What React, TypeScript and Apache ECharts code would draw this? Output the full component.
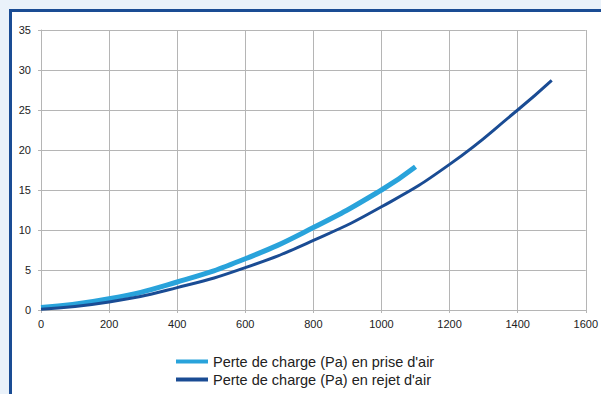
import React, { useEffect, useRef } from "react";
import * as echarts from "echarts";

const priseX = [0, 200, 400, 600, 800, 1000, 1100];
const priseY = [0.3, 1.4, 3.5, 6.4, 10.3, 15.0, 17.9];

const rejetX = [0, 200, 400, 600, 800, 1000, 1200, 1400, 1500];
const rejetY = [0.1, 1.0, 2.8, 5.3, 8.7, 12.9, 18.2, 25.0, 28.7];

const seriesNames = ["Perte de charge (Pa) en prise d'air", "Perte de charge (Pa) en rejet d'air"];

const FONT = "'Liberation Sans', Arial, Helvetica, sans-serif";

export default function App() {
  const ref = useRef<HTMLDivElement>(null);
  useEffect(() => {
    if (!ref.current) return;
    const chart = echarts.init(ref.current, undefined, { renderer: "svg" });
    const gridColor = "#b5b5b5";
    chart.setOption({
      animation: false,
      backgroundColor: "#eaf2fa",
      graphic: [
        {
          type: "rect",
          z: -10,
          silent: true,
          shape: { x: 10.5, y: 10.5, width: 800, height: 600 },
          style: { fill: "#ffffff", stroke: "#1a4c94", lineWidth: 3 },
        },
      ],
      grid: { left: 41, right: 14, top: 30, bottom: 84 },
      xAxis: {
        type: "value",
        min: 0,
        max: 1600,
        interval: 200,
        axisLine: { show: true, lineStyle: { color: gridColor, width: 1 } },
        axisTick: { show: true, length: 3, lineStyle: { color: gridColor } },
        splitLine: { show: true, lineStyle: { color: gridColor, width: 1 } },
        axisLabel: {
          color: "#222",
          fontSize: 11,
          fontFamily: FONT,
          margin: 8,
          formatter: (v: number) => String(v),
        },
      },
      yAxis: {
        type: "value",
        min: 0,
        max: 35,
        interval: 5,
        axisLine: { show: true, lineStyle: { color: gridColor, width: 1 } },
        axisTick: { show: true, length: 3, lineStyle: { color: gridColor } },
        splitLine: { show: true, lineStyle: { color: gridColor, width: 1 } },
        axisLabel: {
          color: "#222",
          fontSize: 11,
          fontFamily: FONT,
          margin: 10,
          formatter: (v: number) => String(v),
        },
      },
      legend: {
        orient: "vertical",
        left: 176,
        top: 354,
        padding: 0,
        height: 40,
        itemWidth: 32,
        itemHeight: 4,
        itemGap: 3,
        itemTextGap: 6,
        icon: "rect",
        textStyle: { color: "#222", fontSize: 14.5, fontFamily: FONT },
        data: seriesNames,
      },
      series: [
        {
          name: seriesNames[0],
          type: "line",
          smooth: 0.5,
          showSymbol: false,
          data: priseX.map((x, i) => [x, priseY[i]]),
          lineStyle: { color: "#29a3db", width: 5 },
          itemStyle: { color: "#29a3db" },
        },
        {
          name: seriesNames[1],
          type: "line",
          smooth: 0.5,
          showSymbol: false,
          data: rejetX.map((x, i) => [x, rejetY[i]]),
          lineStyle: { color: "#1a4c94", width: 3 },
          itemStyle: { color: "#1a4c94" },
        },
      ],
    });
    return () => chart.dispose();
  }, []);
  return (
    <div
      ref={ref}
      style={{ position: "absolute", left: 0, top: 0, width: 601, height: 394 }}
    />
  );
}
